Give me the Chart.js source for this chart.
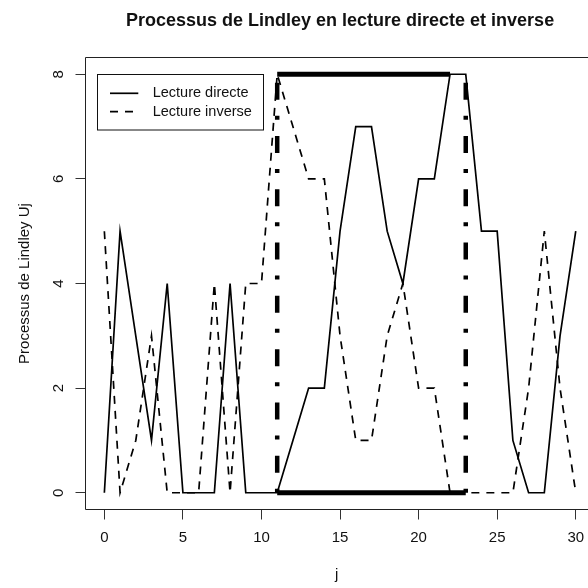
<!DOCTYPE html>
<html>
<head>
<meta charset="utf-8">
<script src="https://cdn.jsdelivr.net/npm/chart.js@4.4.1/dist/chart.umd.min.js"></script>
<style>
  html, body { margin: 0; padding: 0; background: #fff; overflow: hidden; }
</style>
</head>
<body>
<canvas id="lindley" width="588" height="588"></canvas>
<script>
const indices = [0, 1, 2, 3, 4, 5, 6, 7, 8, 9, 10, 11, 12, 13, 14, 15, 16, 17, 18, 19, 20, 21, 22, 23, 24, 25, 26, 27, 28, 29, 30];
const lectureDirecte = [0, 5, 3, 1, 4, 0, 0, 0, 4, 0, 0, 0, 1, 2, 2, 5, 7, 7, 5, 4, 6, 6, 8, 8, 5, 5, 1, 0, 0, 3, 5];
const lectureInverse = [5, 0, 1, 3, 0, 0, 0, 4, 0, 4, 4, 8, 7, 6, 6, 3, 1, 1, 3, 4, 2, 2, 0, 0, 0, 0, 0, 2, 5, 2, 0];
const xTicks = [0, 5, 10, 15, 20, 25, 30];
const yTicks = [0, 2, 4, 6, 8];

// bornes de la periode mise en evidence
const bornes = [11, 23];
const finPlateau = 22;
const niveaux = [0, 8];

const police = '"Liberation Sans", Arial, Helvetica, sans-serif';
const encre = '#111';

function points(xs, ys) {
  return xs.map((x, i) => ({ x: x, y: ys[i] }));
}

const trait = { pointRadius: 0, tension: 0, fill: false, borderColor: '#000' };

const datasets = [
  Object.assign({ label: 'Lecture directe', data: points(indices, lectureDirecte), borderWidth: 1.7 }, trait),
  Object.assign({ label: 'Lecture inverse', data: points(indices, lectureInverse), borderWidth: 1.7, borderDash: [8, 7] }, trait),
  Object.assign({ data: [{ x: bornes[0], y: niveaux[1] }, { x: finPlateau, y: niveaux[1] }], borderWidth: 5 }, trait),
  Object.assign({ data: [{ x: bornes[0], y: niveaux[0] }, { x: bornes[1], y: niveaux[0] }], borderWidth: 5 }, trait),
  Object.assign({ data: [{ x: bornes[0], y: niveaux[0] }, { x: bornes[0], y: niveaux[1] }], borderWidth: 4.5, borderDash: [4, 16, 17, 16.3] }, trait),
  Object.assign({ data: [{ x: bornes[1], y: niveaux[0] }, { x: bornes[1], y: niveaux[1] }], borderWidth: 4.5, borderDash: [4, 16, 17, 16.3] }, trait)
];

// cadre gauche / haut / bas, le bord droit sort du canvas
const cadre = {
  id: 'cadre',
  afterDraw(chart) {
    const { ctx, chartArea: a } = chart;
    ctx.save();
    ctx.strokeStyle = '#222';
    ctx.lineWidth = 1;
    ctx.beginPath();
    ctx.moveTo(a.right + 5, a.top);
    ctx.lineTo(a.left, a.top);
    ctx.lineTo(a.left, a.bottom);
    ctx.lineTo(a.right + 5, a.bottom);
    ctx.stroke();
    ctx.restore();
  }
};

// titre centre sur la region de trace complete (-1.2 .. 31.2)
const titre = {
  id: 'titre',
  afterDraw(chart) {
    const { ctx } = chart;
    const sx = chart.scales.x;
    const cx = (sx.getPixelForValue(-1.2) + sx.getPixelForValue(31.2)) / 2;
    ctx.save();
    ctx.font = 'bold 18px ' + police;
    ctx.fillStyle = encre;
    ctx.textAlign = 'center';
    ctx.textBaseline = 'middle';
    ctx.fillText('Processus de Lindley en lecture directe et inverse', cx, 21);
    ctx.restore();
  }
};

const legende = {
  id: 'legende',
  afterDraw(chart) {
    const { ctx, chartArea: a } = chart;
    const x0 = a.left + 11.2, y0 = a.top + 16.8;
    ctx.save();
    ctx.strokeStyle = '#111';
    ctx.lineWidth = 1;
    ctx.strokeRect(Math.round(x0) + 0.5, Math.round(y0) + 0.5, 166, 55.5);
    ctx.font = '14.5px ' + police;
    ctx.fillStyle = encre;
    ctx.textBaseline = 'middle';
    chart.data.datasets.filter(d => d.label).forEach((d, i) => {
      const y = y0 + 19 + i * 18.4;
      ctx.beginPath();
      ctx.lineWidth = d.borderWidth;
      ctx.strokeStyle = d.borderColor;
      ctx.setLineDash(d.borderDash || []);
      ctx.moveTo(x0 + 13.3, y);
      ctx.lineTo(x0 + 41.6, y);
      ctx.stroke();
      ctx.setLineDash([]);
      ctx.fillText(d.label, x0 + 56, y);
    });
    ctx.restore();
  }
};

new Chart(document.getElementById('lindley'), {
  type: 'line',
  data: { datasets: datasets },
  options: {
    responsive: false,
    animation: false,
    devicePixelRatio: 1,
    events: [],
    layout: { padding: { top: 57.5, left: 0, right: 0, bottom: 0 } },
    plugins: { legend: { display: false }, title: { display: false }, tooltip: { enabled: false } },
    scales: {
      x: {
        type: 'linear',
        min: -1.2,
        max: 30.78,
        afterBuildTicks: s => { s.ticks = xTicks.map(v => ({ value: v })); },
        afterFit: s => { s.height = 78.5; s.paddingLeft = 0; s.paddingRight = 0; },
        grid: { drawOnChartArea: false, tickLength: 10, color: '#333', lineWidth: 1 },
        border: { display: false },
        ticks: { autoSkip: false, maxRotation: 0, padding: 9, color: encre, font: { family: police, size: 15 } },
        title: { display: true, text: 'j', color: encre, font: { family: police, size: 15 }, padding: { top: 0, bottom: 4.4 } }
      },
      y: {
        min: -0.32,
        max: 8.32,
        afterBuildTicks: s => { s.ticks = yTicks.map(v => ({ value: v })); },
        afterFit: s => { s.width = 85.5; s.paddingTop = 0; s.paddingBottom = 0; },
        grid: { drawOnChartArea: false, tickLength: 10, color: '#333', lineWidth: 1 },
        border: { display: false },
        ticks: { autoSkip: false, minRotation: 90, maxRotation: 90, crossAlign: 'center', padding: 12, color: encre, font: { family: police, size: 15 } },
        title: { display: true, text: 'Processus de Lindley Uj', color: encre, font: { family: police, size: 15 }, padding: { top: 15.5, bottom: 0 } }
      }
    }
  },
  plugins: [cadre, titre, legende]
});
</script>
</body>
</html>
